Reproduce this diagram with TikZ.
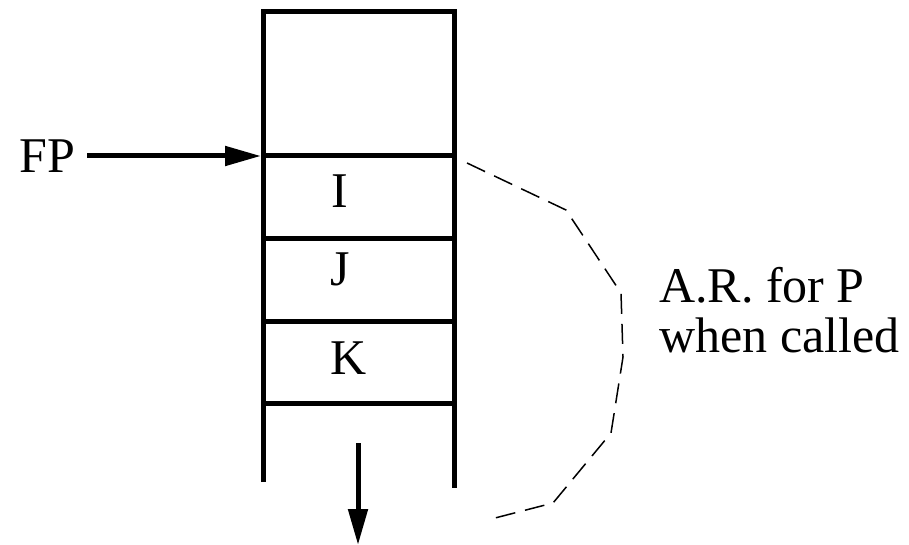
\documentclass[tikz,border=0pt]{standalone}
\usepackage{fontspec}
\setmainfont{Liberation Serif}
\usetikzlibrary{arrows.meta}

\begin{document}
\begin{tikzpicture}[x=1pt, y=-1pt,
    wall/.style={line width=5pt},
    arr/.style={-{Triangle[length=36pt, width=19pt]}, line width=5pt},
    lbl/.style={font=\fontsize{50}{50}\selectfont, inner sep=0pt}
  ]
  \useasboundingbox (0,0) rectangle (909,545);

  % stack walls
  \coordinate (tl) at (263,12);
  \coordinate (tr) at (454,12);
  \coordinate (bl) at (263,482);
  \coordinate (br) at (454,488);
  \draw[wall] (bl) -- (tl) -- (tr) -- (br);
  \foreach \y in {156,238,321,403}
    \draw[wall] (263,\y) -- (454,\y);

  % slots
  \node[lbl, anchor=base] (slotI) at (340,208) {I};
  \node[lbl, anchor=base] (slotJ) at (340,285) {J};
  \node[lbl, anchor=base] (slotK) at (349,374) {K};

  % frame pointer
  \node[lbl, anchor=base west] (fp) at (19,173) {FP};
  \coordinate (fptip) at (261,156);
  \draw[arr, shorten <=12pt] (fp.east |- fptip) -- (fptip);

  % growth direction
  \coordinate (grow) at (358,443);
  \coordinate (growend) at (358,545);
  \draw[arr] (grow) -- (growend);

  % activation record
  \draw[dash pattern=on 20pt off 10pt, line width=1.5pt]
    (467,163) -- (566,210) -- (621,293) -- (623,357)
    -- (611,433) -- (553,503) -- (495,518);
  \node[lbl, anchor=west, align=left] (ar) at (659,310) {A.R. for P\\when called};
\end{tikzpicture}
\end{document}
